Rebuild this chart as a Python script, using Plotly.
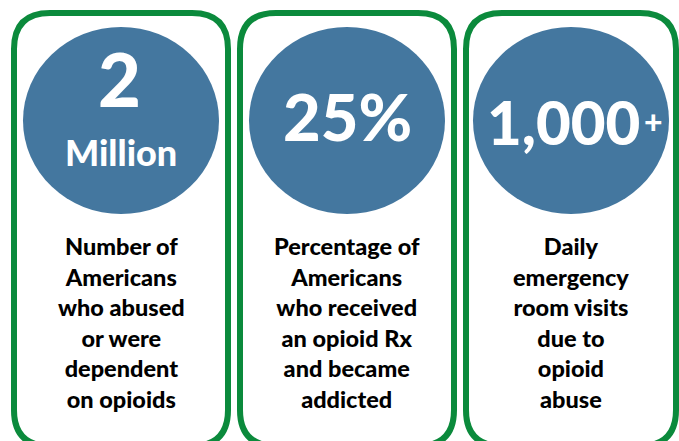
import plotly.graph_objects as go

# Data
headline_values = ["2", "25%", "1,000"]
headline_units = ["Million", "", ""]
headline_suffix = ["", "", "+"]
descriptions = [
    ["Number of", "Americans", "who abused", "or were", "dependent", "on opioids"],
    ["Percentage of", "Americans", "who received", "an opioid Rx", "and became", "addicted"],
    ["Daily", "emergency", "room visits", "due to", "opioid", "abuse"],
]

W, H = 679, 441
GREEN = "#0B8A3C"
BLUE = "#44779F"
FONT = "Lato"
WEIGHT = 900

panel_left = [14, 240, 466]
panel_right = [228, 454, 676]
top, bottom, r = 13, 446, 36

fig = go.Figure()
shapes = []
annotations = []

def rounded_rect(x0, y0, x1, y1, r):
    return (f"M {x0+r},{y0} L {x1-r},{y0} Q {x1},{y0} {x1},{y0+r} "
            f"L {x1},{y1-r} Q {x1},{y1} {x1-r},{y1} L {x0+r},{y1} "
            f"Q {x0},{y1} {x0},{y1-r} L {x0},{y0+r} Q {x0},{y0} {x0+r},{y0} Z")

def font(size, color):
    return dict(family=FONT, size=size, color=color, weight=WEIGHT)

for i in range(len(headline_values)):
    x0, x1 = panel_left[i], panel_right[i]
    cx = (x0 + x1) / 2
    shapes.append(dict(type="path", path=rounded_rect(x0, top, x1, bottom, r),
                       xref="x", yref="y", line=dict(color=GREEN, width=6),
                       fillcolor="white", layer="below"))
    shapes.append(dict(type="circle", xref="x", yref="y",
                       x0=cx - 98, x1=cx + 98, y0=27, y1=214,
                       fillcolor=BLUE, line=dict(width=0), layer="below"))
    if headline_units[i]:
        annotations.append(dict(x=cx - 2, y=78, text=headline_values[i],
                                showarrow=False, xref="x", yref="y",
                                font=font(74, "white")))
        annotations.append(dict(x=cx, y=152, text=headline_units[i],
                                showarrow=False, xref="x", yref="y",
                                font=font(36, "white")))
    elif headline_suffix[i]:
        annotations.append(dict(x=cx - 8, y=122, text=headline_values[i],
                                showarrow=False, xref="x", yref="y",
                                font=font(60, "white")))
        annotations.append(dict(x=cx + 82, y=121, text=headline_suffix[i],
                                showarrow=False, xref="x", yref="y",
                                font=font(32, "white")))
    else:
        annotations.append(dict(x=cx, y=116, text=headline_values[i],
                                showarrow=False, xref="x", yref="y",
                                font=font(65, "white")))
    annotations.append(dict(x=cx, y=322, text="<br>".join(descriptions[i]),
                            showarrow=False, xref="x", yref="y", align="center",
                            font=font(23.5, "black")))

fig.update_layout(
    width=W, height=H, margin=dict(l=0, r=0, t=0, b=0),
    paper_bgcolor="white", plot_bgcolor="white",
    xaxis=dict(range=[0, W], visible=False, fixedrange=True),
    yaxis=dict(range=[H, 0], visible=False, fixedrange=True),
    shapes=shapes, annotations=annotations, showlegend=False,
)
fig.write_html("out.html", config={"displayModeBar": False})
